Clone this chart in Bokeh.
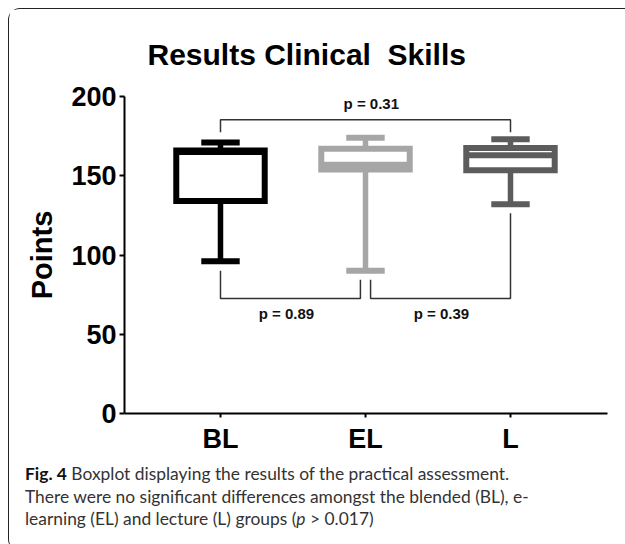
from bokeh.plotting import figure
from bokeh.layouts import column
from bokeh.models import Label, Range1d, FixedTicker, Title, Div
from bokeh.embed import file_html
from bokeh.resources import INLINE

# ---- data ----
groups = ["BL", "EL", "L"]
group_pos = [1, 2, 3]
mins = [96, 90, 132]
q1 = [134, 154, 153.5]
medians = [165, 157, 163]
q3 = [166, 167, 167.5]
maxs = [171, 174, 173]
colors = ["#000000", "#a6a6a6", "#5c5c5c"]
y_ticks = [0, 50, 100, 150, 200]

# comparisons: (left group index, right group index, p label)
comp_left = [0, 0, 1]
comp_right = [2, 1, 2]
p_labels = ["p = 0.31", "p = 0.89", "p = 0.39"]

title_text = "Results Clinical\u00a0 Skills"
caption_html = ("<b style='color:#111'>Fig. 4</b> Boxplot displaying the results of the practical assessment.<br>"
                "There were no significant differences amongst the blended (BL), e-<br>"
                "learning (EL) and lecture (L) groups (<i>p</i> &gt; 0.017)")

W = 615
MAIN_H = 455
CAP_H = 77
FL, FR, FT, FB = 115, 17, 87, 51

p = figure(width=W, height=MAIN_H, output_backend="svg", toolbar_location=None,
           x_range=Range1d(0.338, 3.669), y_range=Range1d(0, 200),
           min_border_left=FL, min_border_right=FR, min_border_top=FT, min_border_bottom=FB)
p.outline_line_color = None
p.grid.visible = False
p.background_fill_color = "white"
p.border_fill_color = "white"

p.add_layout(Title(text=title_text, align="left", offset=23, standoff=51,
                   text_font="Liberation Sans", text_font_style="bold",
                   text_font_size="30px", text_color="black"), "above")

p.yaxis.ticker = FixedTicker(ticks=y_ticks)
p.xaxis.ticker = FixedTicker(ticks=group_pos)
p.xaxis.major_label_overrides = {gp: g for gp, g in zip(group_pos, groups)}
for ax in (p.xaxis[0], p.yaxis[0]):
    ax.axis_line_width = 2
    ax.axis_line_color = "black"
    ax.major_tick_line_width = 2
    ax.major_tick_line_color = "black"
    ax.major_tick_in = 0
    ax.minor_tick_line_color = None
    ax.major_label_text_font = "Liberation Sans"
    ax.major_label_text_font_style = "bold"
    ax.major_label_text_color = "black"
p.yaxis.major_tick_out = 5
p.xaxis.major_tick_out = 4
p.yaxis.major_label_text_font_size = "27px"
p.xaxis.major_label_text_font_size = "27px"
p.yaxis.major_label_standoff = 3
p.xaxis.major_label_standoff = 6
p.yaxis.axis_label = "Points"
p.yaxis.axis_label_text_font = "Liberation Sans"
p.yaxis.axis_label_text_font_style = "bold"
p.yaxis.axis_label_text_font_size = "29px"
p.yaxis.axis_label_text_color = "black"
p.yaxis.axis_label_standoff = 10

BOX_W = 0.61
CAP_W = 0.265

p.segment(x0=group_pos, y0=q3, x1=group_pos, y1=maxs, line_color=colors, line_width=5.5)
p.segment(x0=group_pos, y0=q1, x1=group_pos, y1=mins, line_color=colors, line_width=5.5)
p.segment(x0=[g - CAP_W / 2 for g in group_pos], y0=maxs, x1=[g + CAP_W / 2 for g in group_pos], y1=maxs,
          line_color=colors, line_width=6)
p.segment(x0=[g - CAP_W / 2 for g in group_pos], y0=mins, x1=[g + CAP_W / 2 for g in group_pos], y1=mins,
          line_color=colors, line_width=6)
p.vbar(x=group_pos, width=BOX_W, top=q3, bottom=q1, fill_color="white",
       line_color=colors, line_width=6, line_join="miter")
p.segment(x0=[g - BOX_W / 2 for g in group_pos], y0=medians, x1=[g + BOX_W / 2 for g in group_pos], y1=medians,
          line_color=colors, line_width=6)

# significance brackets
top_level, top_leg = 185.3, 177.5
low_level = 72.6
gap = 0.035
xs, ys = [], []
l, r = group_pos[comp_left[0]], group_pos[comp_right[0]]
xs.append([l, l, r, r]); ys.append([top_leg, top_level, top_level, top_leg])
l, r = group_pos[comp_left[1]], group_pos[comp_right[1]]
xs.append([l, l, r - gap, r - gap]); ys.append([90.1, low_level, low_level, 84.4])
l, r = group_pos[comp_left[2]], group_pos[comp_right[2]]
xs.append([l + gap, l + gap, r, r]); ys.append([84.4, low_level, low_level, 126.3])
p.multi_line(xs=xs, ys=ys, line_color="#333333", line_width=1.5)

label_pos = [(2.04, 195.6), (1.455, 63.2), (2.524, 63.2)]
for (lx, ly), txt in zip(label_pos, p_labels):
    p.add_layout(Label(x=lx, y=ly, text=txt, text_align="center", text_baseline="middle",
                       text_font="Liberation Sans", text_font_style="bold", text_font_size="15px",
                       text_color="#111111"))

# ---- caption ----
cap = Div(width=W, height=CAP_H,
          text=("<div style=\"font-family:Lato;font-size:17.4px;line-height:22.5px;color:#333;"
                "padding-left:11px;margin-top:-6px;white-space:nowrap\">" + caption_html + "</div>"))

layout = column(p, cap, spacing=0)
layout.styles = {"margin-left": "8px", "margin-top": "8px",
                 "border-left": "1px solid #222", "border-top": "1px solid #222",
                 "border-top-left-radius": "12px", "border-bottom-left-radius": "12px"}

open("out.html", "w").write(file_html(layout, INLINE))
